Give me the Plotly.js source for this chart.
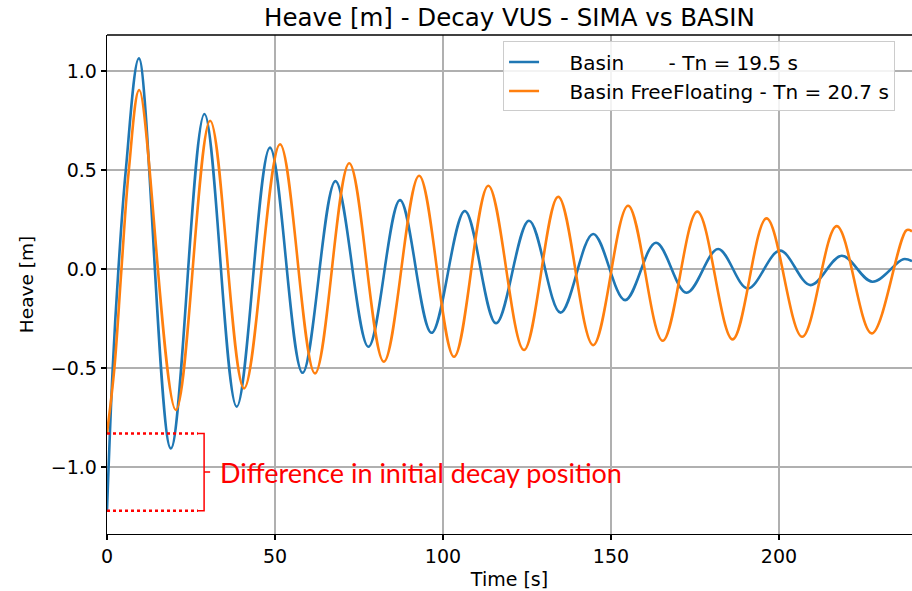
<!DOCTYPE html>
<html>
<head>
<meta charset="utf-8">
<script src="https://cdn.plot.ly/plotly-3.0.1.min.js"></script>
<style>html,body{margin:0;padding:0;background:#fff;}#chart{width:912px;height:591px;}</style>
</head>
<body>
<div id="chart"></div>
<script>
// Values (extrema of each oscillation)
const timeBlue = [0, 1.7, 3.4, 5.6, 9.5, 19.0, 29.0, 38.6, 48.5, 58.2, 68.0, 77.8, 87.2, 96.6, 106.5, 115.8, 125.6, 135.0, 144.7, 154.2, 163.4, 172.5, 181.9, 190.7, 200.3, 209.4, 218.7, 227.8, 237.0, 239.6];
const heaveBlue = [-1.22, -0.5, 0.0, 0.5, 1.064, -0.906, 0.783, -0.695, 0.613, -0.524, 0.444, -0.392, 0.348, -0.322, 0.293, -0.274, 0.244, -0.220, 0.177, -0.157, 0.133, -0.120, 0.101, -0.098, 0.093, -0.081, 0.067, -0.064, 0.050, 0.040];
const timeOrange = [0, 2.2, 4.3, 6.5, 9.6, 20.5, 30.7, 40.8, 51.5, 61.9, 72.1, 82.4, 92.9, 103.3, 113.5, 124.1, 134.3, 144.7, 155.1, 165.4, 175.7, 186.2, 196.3, 206.9, 217.2, 227.6, 238.0, 239.6];
const heaveOrange = [-0.83, -0.5, 0.0, 0.5, 0.904, -0.712, 0.749, -0.603, 0.630, -0.527, 0.534, -0.468, 0.471, -0.443, 0.421, -0.409, 0.365, -0.384, 0.320, -0.362, 0.290, -0.355, 0.256, -0.342, 0.217, -0.325, 0.197, 0.190];
const seriesNames = ["Basin\u00a0\u00a0\u00a0\u00a0\u00a0\u00a0\u00a0- Tn = 19.5 s", "Basin FreeFloating - Tn = 20.7 s"];
const xTicks = [0, 50, 100, 150, 200];
const yTicks = [-1.0, -0.5, 0.0, 0.5, 1.0];
const chartTitle = "Heave [m] - Decay VUS - SIMA vs BASIN";
const xTitle = "Time [s]";
const yTitle = "Heave [m]";
const noteText = "Difference in initial decay position";

const font = "DejaVu Sans, sans-serif";
const pad = "\u00a0\u00a0\u00a0\u00a0";
const traces = [
  {x: timeBlue, y: heaveBlue, name: pad + seriesNames[0], mode: "lines",
   line: {color: "#1f77b4", width: 2.6, shape: "spline", smoothing: 1}},
  {x: timeOrange, y: heaveOrange, name: pad + seriesNames[1], mode: "lines",
   line: {color: "#ff7f0e", width: 2.6, shape: "spline", smoothing: 1}}
];

const yTop = heaveOrange[0], yBot = heaveBlue[0], yMid = (yTop + yBot) / 2;
const tEnd = 27.1, tBr = 28.9, tTick = 30.7;

const layout = {
  width: 912, height: 591,
  margin: {l: 107, r: 0, t: 35, b: 57},
  paper_bgcolor: "#fff", plot_bgcolor: "#fff",
  font: {family: font, color: "#000", size: 19},
  title: {text: chartTitle, x: 0.5, xref: "paper", y: 0.97, yanchor: "middle",
          font: {family: font, size: 24.5, color: "#000"}},
  showlegend: true,
  legend: {x: 0.492, y: 0.987, xanchor: "left", yanchor: "top",
           bgcolor: "rgba(255,255,255,0.85)", bordercolor: "#cccccc", borderwidth: 1,
           font: {family: font, size: 20, color: "#000"}, tracegroupgap: 0},
  xaxis: {range: [0, 239.6], tickvals: xTicks, ticktext: xTicks.map(String),
          showgrid: true, gridcolor: "#b0b0b0", gridwidth: 1.2, zeroline: false,
          showline: true, linecolor: "#000", linewidth: 1.3,
          ticks: "outside", ticklen: 5, tickcolor: "#000", tickwidth: 1.3,
          title: {text: xTitle, font: {family: font, size: 19}, standoff: 6}},
  yaxis: {range: [-1.338, 1.182], tickvals: yTicks, ticktext: yTicks.map(v => v.toFixed(1).replace("-", "\u2212")),
          showgrid: true, gridcolor: "#b0b0b0", gridwidth: 1.2, zeroline: false,
          showline: true, linecolor: "#000", linewidth: 1.3,
          ticks: "outside", ticklen: 5, tickcolor: "#000", tickwidth: 1.3,
          title: {text: yTitle, font: {family: font, size: 18.5}, standoff: 12}},
  shapes: [
    {type: "line", xref: "paper", yref: "paper", x0: 0, x1: 1, y0: 1, y1: 1, line: {color: "#000", width: 1.3}},
    {type: "line", xref: "x", yref: "y", x0: 0, x1: tEnd, y0: yTop, y1: yTop, line: {color: "#ff0000", width: 2.5, dash: "dot"}},
    {type: "line", xref: "x", yref: "y", x0: 0, x1: tEnd, y0: yBot, y1: yBot, line: {color: "#ff0000", width: 2.5, dash: "dot"}},
    {type: "path", xref: "x", yref: "y",
     path: `M${tEnd},${yTop} H${tBr} V${yBot} H${tEnd} M${tBr},${yMid} H${tTick}`,
     line: {color: "#ff0000", width: 1.5}}
  ],
  annotations: [
    {text: noteText, x: 33.0, y: yMid, xref: "x", yref: "y", xanchor: "left", yanchor: "middle",
     showarrow: false, font: {family: "Lato, sans-serif", size: 27, color: "#ff0000"}}
  ]
};

Plotly.newPlot("chart", traces, layout, {staticPlot: true, displayModeBar: false});
</script>
</body>
</html>
